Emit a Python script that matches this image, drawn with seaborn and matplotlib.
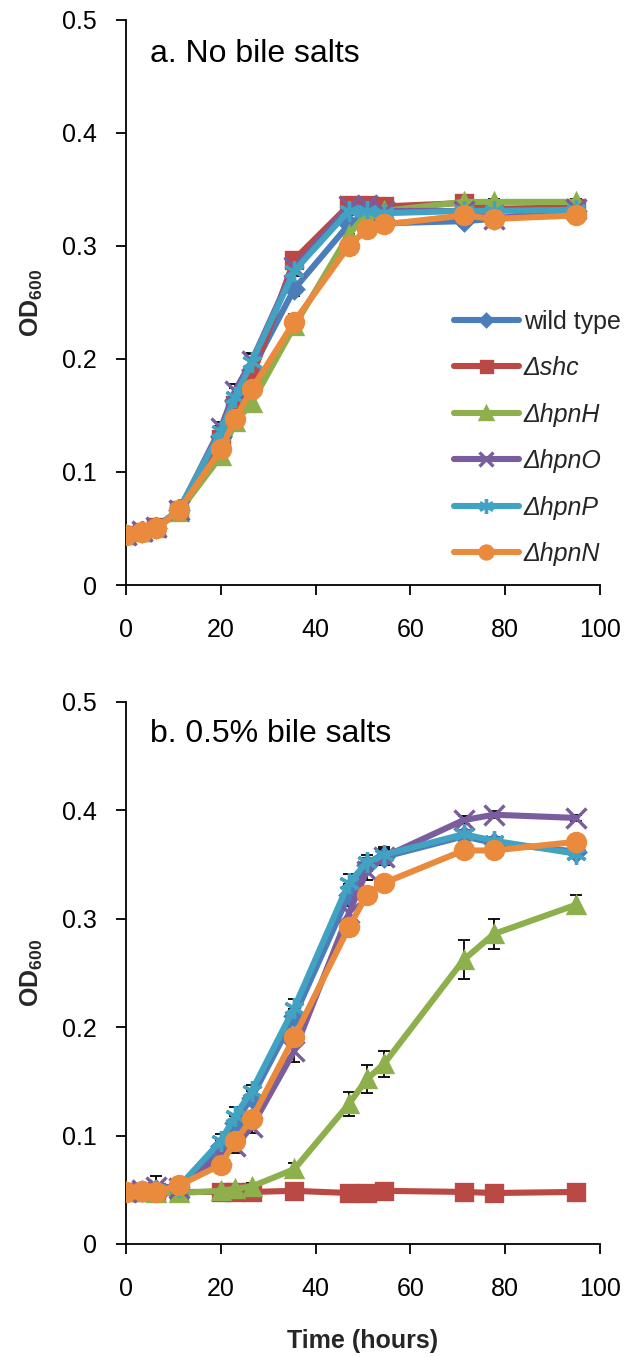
import matplotlib
matplotlib.use("Agg")
import matplotlib.pyplot as plt
import seaborn as sns
import numpy as np

sns.set_theme(style="white")
plt.rcParams['font.family'] = ['Liberation Sans', 'DejaVu Sans']
plt.rcParams['mathtext.fontset'] = 'custom'
plt.rcParams['mathtext.rm'] = 'Liberation Sans'
plt.rcParams['mathtext.it'] = 'Liberation Sans:italic'
plt.rcParams['mathtext.bf'] = 'Liberation Sans:bold'

# ---------------- data ----------------
times = [0, 3.3, 6.4, 11.2, 20, 23, 26.5, 35.5, 47, 50.8, 54.4, 71.2, 77.6, 95]

strains = ["wild type", "\u0394shc", "\u0394hpnH", "\u0394hpnO", "\u0394hpnP", "\u0394hpnN"]

# Panel a: no bile salts
wt_a   = [0.044, 0.047, 0.050, 0.066, 0.132, 0.163, 0.190, 0.262, 0.319, 0.329, 0.320, 0.322, 0.324, 0.331]
shc_a  = [0.044, 0.047, 0.051, 0.066, 0.129, 0.159, 0.183, 0.288, 0.336, 0.336, 0.335, 0.338, 0.333, 0.334]
hpnH_a = [0.044, 0.047, 0.050, 0.065, 0.114, 0.144, 0.161, 0.229, 0.310, 0.329, 0.331, 0.339, 0.339, 0.339]
hpnO_a = [0.044, 0.048, 0.051, 0.066, 0.139, 0.172, 0.198, 0.281, 0.335, 0.336, 0.331, 0.331, 0.324, 0.333]
hpnP_a = [0.044, 0.048, 0.051, 0.067, 0.136, 0.166, 0.197, 0.278, 0.331, 0.331, 0.329, 0.331, 0.331, 0.332]
hpnN_a = [0.044, 0.047, 0.050, 0.066, 0.120, 0.147, 0.173, 0.233, 0.300, 0.315, 0.319, 0.327, 0.324, 0.327]

err_wt_a   = [0.002, 0.002, 0.002, 0.003, 0.004, 0.005, 0.005, 0.006, 0.008, 0.005, 0.004, 0.004, 0.004, 0.003]
err_shc_a  = [0.002, 0.002, 0.002, 0.002, 0.003, 0.004, 0.004, 0.004, 0.004, 0.003, 0.003, 0.003, 0.003, 0.003]
err_hpnH_a = [0.002, 0.002, 0.002, 0.002, 0.004, 0.006, 0.006, 0.008, 0.008, 0.004, 0.003, 0.003, 0.003, 0.003]
err_hpnO_a = [0.002, 0.002, 0.002, 0.002, 0.005, 0.006, 0.006, 0.005, 0.004, 0.004, 0.003, 0.003, 0.003, 0.003]
err_hpnP_a = [0.002, 0.002, 0.002, 0.003, 0.005, 0.008, 0.008, 0.005, 0.004, 0.004, 0.003, 0.003, 0.003, 0.003]
err_hpnN_a = [0.002, 0.002, 0.002, 0.002, 0.004, 0.005, 0.006, 0.007, 0.008, 0.006, 0.004, 0.003, 0.003, 0.003]

# Panel b: 0.5% bile salts
wt_b   = [0.048, 0.049, 0.050, 0.053, 0.090, 0.112, 0.135, 0.210, 0.322, 0.350, 0.357, 0.376, 0.370, 0.362]
shc_b  = [0.048, 0.048, 0.048, 0.048, 0.048, 0.048, 0.048, 0.049, 0.047, 0.047, 0.049, 0.048, 0.047, 0.048]
hpnH_b = [0.048, 0.048, 0.047, 0.047, 0.049, 0.051, 0.053, 0.069, 0.129, 0.152, 0.166, 0.262, 0.286, 0.313]
hpnO_b = [0.048, 0.050, 0.053, 0.052, 0.082, 0.090, 0.108, 0.178, 0.305, 0.344, 0.357, 0.391, 0.396, 0.393]
hpnP_b = [0.048, 0.049, 0.050, 0.053, 0.095, 0.118, 0.141, 0.218, 0.333, 0.352, 0.359, 0.378, 0.372, 0.360]
hpnN_b = [0.048, 0.049, 0.048, 0.054, 0.073, 0.095, 0.115, 0.191, 0.292, 0.322, 0.333, 0.363, 0.363, 0.371]

err_wt_b   = [0.002, 0.003, 0.004, 0.003, 0.006, 0.006, 0.006, 0.007, 0.010, 0.006, 0.006, 0.004, 0.004, 0.004]
err_shc_b  = [0.002, 0.002, 0.002, 0.002, 0.002, 0.002, 0.002, 0.002, 0.002, 0.002, 0.002, 0.002, 0.002, 0.002]
err_hpnH_b = [0.002, 0.002, 0.002, 0.002, 0.002, 0.002, 0.003, 0.006, 0.011, 0.013, 0.012, 0.018, 0.014, 0.009]
err_hpnO_b = [0.002, 0.003, 0.010, 0.004, 0.006, 0.006, 0.006, 0.010, 0.008, 0.008, 0.007, 0.004, 0.003, 0.003]
err_hpnP_b = [0.002, 0.003, 0.004, 0.003, 0.006, 0.008, 0.006, 0.008, 0.008, 0.007, 0.007, 0.004, 0.003, 0.003]
err_hpnN_b = [0.002, 0.002, 0.002, 0.003, 0.004, 0.005, 0.005, 0.006, 0.008, 0.007, 0.005, 0.004, 0.003, 0.003]

colors = ['#4A7DBA', '#BA4946', '#8DB04C', '#7A5D9D', '#41A3C1', '#EA8A3D']
markers = ['D', 's', '^', 'x', (6, 2, 0), 'o']
msizes = [9, 11, 12, 14, 15, 13]

panel_a = [wt_a, shc_a, hpnH_a, hpnO_a, hpnP_a, hpnN_a]
panel_a_err = [err_wt_a, err_shc_a, err_hpnH_a, err_hpnO_a, err_hpnP_a, err_hpnN_a]
panel_b = [wt_b, shc_b, hpnH_b, hpnO_b, hpnP_b, hpnN_b]
panel_b_err = [err_wt_b, err_shc_b, err_hpnH_b, err_hpnO_b, err_hpnP_b, err_hpnN_b]

fig = plt.figure(figsize=(6.29, 13.57), dpi=100)
ax_a = fig.add_axes([0.2003, 0.5689, 0.7537, 0.4164])
ax_b = fig.add_axes([0.2003, 0.0833, 0.7537, 0.3994])


def draw(ax, series, errs, title):
    for i, (vals, err) in enumerate(zip(series, errs)):
        ax.errorbar(times, vals, yerr=err, fmt='none', ecolor='black',
                    elinewidth=1.3, capsize=4.5, capthick=1.3, zorder=1)
    for i, vals in enumerate(series):
        sns.lineplot(x=times, y=vals, ax=ax, color=colors[i], marker=markers[i],
                     markersize=msizes[i], markeredgecolor=colors[i],
                     markeredgewidth=2.4, linewidth=4.4, label=strains[i],
                     zorder=2 + i, legend=True)
    ax.set_xlim(0, 100)
    ax.set_ylim(0, 0.5)
    ax.set_xticks([0, 20, 40, 60, 80, 100])
    ax.set_yticks([0, 0.1, 0.2, 0.3, 0.4, 0.5])
    ax.set_yticklabels(["0", "0.1", "0.2", "0.3", "0.4", "0.5"])
    for s in ['top', 'right']:
        ax.spines[s].set_visible(False)
    for s in ['left', 'bottom']:
        ax.spines[s].set_color('black')
        ax.spines[s].set_linewidth(1.3)
    ax.tick_params(axis='both', which='major', direction='out', length=7,
                   width=1.3, color='black', labelsize=18, labelcolor='black',
                   left=True, bottom=True)
    ax.tick_params(axis='x', pad=17)
    ax.tick_params(axis='y', pad=14)
    ax.set_ylabel(r"$\mathbf{OD}_{\mathbf{600}}$", fontsize=18, labelpad=12)
    ax.text(0.05, 0.94, title, transform=ax.transAxes, fontsize=23,
            ha='left', va='center', color='black')
    ax.grid(False)
    ax.set_facecolor('white')


draw(ax_a, panel_a, panel_a_err, "a. No bile salts")
draw(ax_b, panel_b, panel_b_err, "b. 0.5% bile salts")

ax_b.get_legend().remove()
ax_a.get_legend().remove()
handles, labs = ax_a.get_legend_handles_labels()
leg = ax_a.legend(handles, labs, loc='upper left', bbox_to_anchor=(0.67, 0.505),
                  frameon=False, fontsize=18, handlelength=2.6, labelspacing=0.9,
                  handletextpad=0.2, markerscale=0.72, borderaxespad=0)
for t in leg.get_texts()[1:]:
    t.set_fontstyle('italic')

ax_b.set_xlabel("Time (hours)", fontsize=18, fontweight='bold', labelpad=20)

fig.savefig("out.png", dpi=100, facecolor='white')
